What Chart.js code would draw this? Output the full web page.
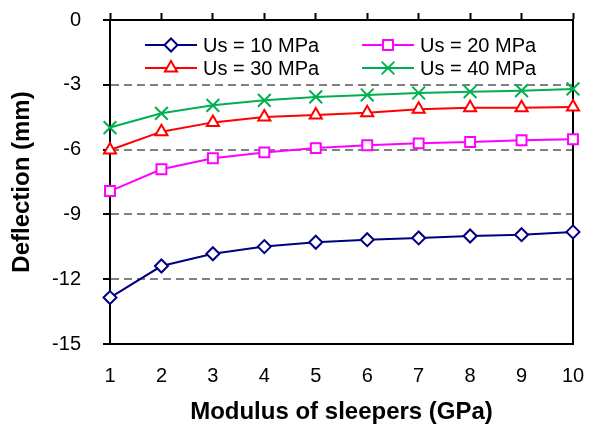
<!DOCTYPE html>
<html>
<head>
<meta charset="utf-8">
<script src="https://cdn.jsdelivr.net/npm/chart.js@4.4.1/dist/chart.umd.min.js"></script>
<style>
  body { margin: 0; background: #fff; }
</style>
</head>
<body>
<canvas id="myChart" width="589" height="435"></canvas>
<script>
// x axis: modulus of sleepers (GPa)
const sleeperModulus = ['1', '2', '3', '4', '5', '6', '7', '8', '9', '10']

// deflection (mm) for each subgrade modulus
const us10 = [-12.85, -11.39, -10.82, -10.49, -10.29, -10.17, -10.09, -10.0, -9.94, -9.81]
const us20 = [-7.92, -6.91, -6.40, -6.13, -5.93, -5.80, -5.71, -5.65, -5.57, -5.52]
const us30 = [-6.02, -5.17, -4.74, -4.49, -4.40, -4.29, -4.13, -4.06, -4.06, -4.03]
const us40 = [-4.98, -4.32, -3.95, -3.72, -3.56, -3.47, -3.38, -3.32, -3.27, -3.19]

const seriesLabels = ['Us = 10 MPa', 'Us = 20 MPa', 'Us = 30 MPa', 'Us = 40 MPa']

const FONT = 'Arial, "Liberation Sans", sans-serif'

const makeSet = (label, data, color, style, radius) => ({
    label: label,
    data: data,
    borderColor: color,
    borderWidth: 2,
    pointStyle: style,
    pointRadius: radius,
    pointBorderWidth: 2,
    pointBorderColor: color,
    pointBackgroundColor: '#fff',
    tension: 0,
    clip: false
})

// fixed axis sizes, and no extra room for overhanging end labels
const fixWidth = (w) => (s) => { s.width = w; s.paddingTop = 0; s.paddingBottom = 0 }
const fixHeight = (h) => (s) => { s.height = h; s.paddingLeft = 0; s.paddingRight = 0 }

// legend drawn as a 2 x 2 grid inside the plot
const legendGrid = {
    id: 'legendGrid',
    afterDatasetsDraw(chart) {
        const ctx = chart.ctx
        const area = chart.chartArea
        chart.data.datasets.forEach((ds, i) => {
            const col = i % 2
            const row = Math.floor(i / 2)
            const x = area.left + 35 + col * 217
            const y = area.top + 25 + row * 23
            ctx.save()
            ctx.strokeStyle = ds.borderColor
            ctx.lineWidth = 2
            ctx.beginPath()
            ctx.moveTo(x, y)
            ctx.lineTo(x + 52, y)
            ctx.stroke()
            ctx.fillStyle = '#fff'
            Chart.helpers.drawPoint(ctx, {
                pointStyle: ds.pointStyle,
                radius: ds.pointRadius,
                rotation: 0,
                borderWidth: 2
            }, x + 26, y)
            ctx.fillStyle = '#000'
            ctx.font = '20px ' + FONT
            ctx.textBaseline = 'middle'
            ctx.textAlign = 'left'
            ctx.fillText(ds.label, x + 58, y + 1)
            ctx.restore()
        })
    }
}

const config = {
    type: 'line',
    data: {
        labels: sleeperModulus,
        datasets: [
            makeSet(seriesLabels[0], us10, '#000080', 'rectRot', 6.5),
            makeSet(seriesLabels[1], us20, '#ff00ff', 'rect', 7),
            makeSet(seriesLabels[2], us30, '#ff0000', 'triangle', 7),
            makeSet(seriesLabels[3], us40, '#00b050', 'crossRot', 9)
        ]
    },
    options: {
        responsive: false,
        animation: false,
        layout: { padding: 0 },
        plugins: {
            legend: { display: false },
            tooltip: { enabled: false }
        },
        scales: {
            x: {
                type: 'category',
                position: 'bottom',
                offset: false,
                afterFit: fixHeight(91),
                grid: { display: false, drawTicks: false },
                border: { display: true, color: '#000', width: 2 },
                ticks: {
                    color: '#000',
                    font: { family: FONT, size: 20 },
                    padding: 20,
                    maxRotation: 0,
                    autoSkip: false
                },
                title: {
                    display: true,
                    text: 'Modulus of sleepers (GPa)',
                    color: '#000',
                    font: { family: FONT, size: 24, weight: 'bold' },
                    padding: { top: 0, bottom: 8 }
                }
            },
            xTop: {
                type: 'category',
                position: 'top',
                offset: false,
                afterFit: fixHeight(20),
                grid: {
                    drawOnChartArea: false,
                    drawTicks: true,
                    tickLength: 7,
                    tickColor: '#000',
                    tickWidth: 2
                },
                border: { display: true, color: '#000', width: 2 },
                ticks: { display: false }
            },
            y: {
                type: 'linear',
                position: 'left',
                min: -15,
                max: 0,
                afterFit: fixWidth(110),
                grid: {
                    color: (c) => (c.tick && (c.tick.value === 0 || c.tick.value === -15)) ? 'rgba(0,0,0,0)' : '#808080',
                    lineWidth: 2,
                    drawTicks: true,
                    tickLength: 7,
                    tickColor: '#000',
                    tickWidth: 2,
                    tickBorderDash: []
                },
                border: { display: true, color: '#000', width: 2, dash: [8, 5] },
                ticks: {
                    stepSize: 3,
                    color: '#000',
                    font: { family: FONT, size: 20 },
                    padding: 22
                },
                title: {
                    display: true,
                    text: 'Deflection (mm)',
                    color: '#000',
                    font: { family: FONT, size: 24, weight: 'bold' },
                    padding: { top: 8, bottom: 0 }
                }
            },
            yRight: {
                type: 'linear',
                position: 'right',
                min: -15,
                max: 0,
                afterFit: fixWidth(16),
                grid: { drawOnChartArea: false, drawTicks: false },
                border: { display: true, color: '#000', width: 2 },
                ticks: { display: false }
            }
        }
    },
    plugins: [legendGrid]
}

const myChart = new Chart(document.getElementById('myChart'), config)
</script>
</body>
</html>
